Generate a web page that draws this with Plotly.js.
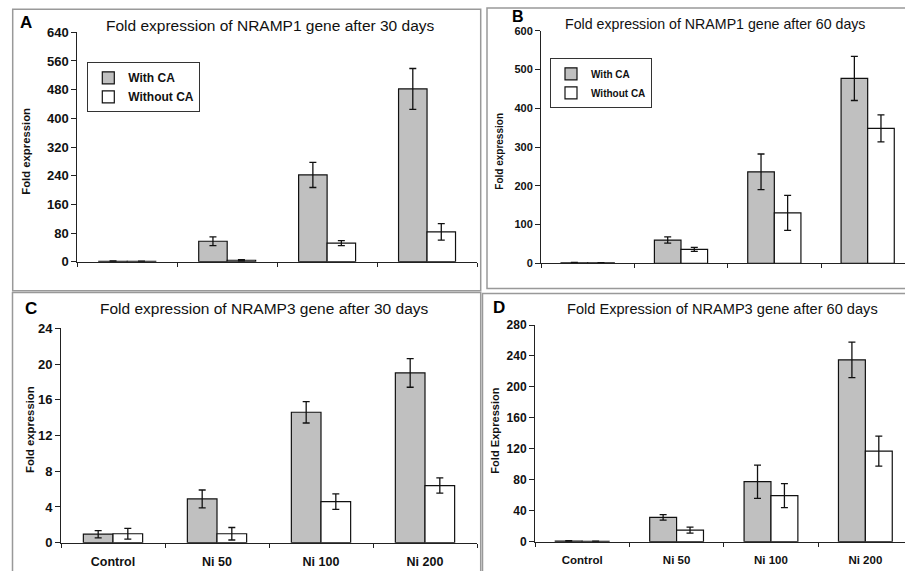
<!DOCTYPE html>
<html>
<head>
<meta charset="utf-8">
<script src="https://cdn.plot.ly/plotly-3.0.1.min.js"></script>
<style>html,body{margin:0;padding:0;background:#fff;}#chart{width:905px;height:571px;}</style>
</head>
<body>
<div id="chart"></div>
<script>
// ---------- data ----------
const categories = ['Control', 'Ni 50', 'Ni 100', 'Ni 200'];
const seriesNames = ['With CA', 'Without CA'];

// A: NRAMP1, 30 days
const n1d30With = [1, 57, 242, 482];
const n1d30WithErr = [1, 12, 35, 57];
const n1d30Without = [1, 4, 52, 83];
const n1d30WithoutErr = [0.5, 2, 7, 23];

// B: NRAMP1, 60 days
const n1d60With = [1, 60, 236, 477];
const n1d60WithErr = [1, 8, 46, 57];
const n1d60Without = [1, 36, 130, 348];
const n1d60WithoutErr = [0.5, 5, 45, 35];

// C: NRAMP3, 30 days
const n3d30With = [0.95, 4.9, 14.6, 19.0];
const n3d30WithErr = [0.4, 1.0, 1.2, 1.6];
const n3d30Without = [1.0, 1.0, 4.6, 6.4];
const n3d30WithoutErr = [0.6, 0.7, 0.86, 0.85];

// D: NRAMP3, 60 days
const n3d60With = [0.8, 31.5, 77.5, 235];
const n3d60WithErr = [0.5, 3.6, 21.5, 23];
const n3d60Without = [0.5, 15, 59.5, 117];
const n3d60WithoutErr = [0.3, 3.9, 15.5, 19.4];

const panelTitles = [
  'Fold expression of NRAMP1 gene after 30 days',
  'Fold expression of NRAMP1 gene after 60 days',
  'Fold expression of NRAMP3 gene after 30 days',
  'Fold Expression of NRAMP3 gene after 60 days'
];
const panelLetters = ['A', 'B', 'C', 'D'];
const yTitles = ['Fold expression', 'Fold expression', 'Fold expression', 'Fold Expression'];

// ---------- helpers ----------
const W = 905, H = 571;
const fx = p => p / W;
const fy = p => 1 - p / H;
const FONT = 'Liberation Sans, Arial, Helvetica, sans-serif';
const GRAY = '#c0c0c0';
const AX = '#222';

function barTrace(vals, errs, name, color, xa, ya, legend, show) {
  return {
    type: 'bar', x: categories, y: vals, name: name,
    xaxis: xa, yaxis: ya, legend: legend, showlegend: show,
    marker: {color: color, line: {color: '#111', width: 1.2}},
    error_y: {type: 'data', array: errs, visible: true, color: '#111', thickness: 1.3, width: 3.5},
    hoverinfo: 'x+y+name'
  };
}

const data = [
  barTrace(n1d30With, n1d30WithErr, seriesNames[0], GRAY, 'x', 'y', 'legend', true),
  barTrace(n1d30Without, n1d30WithoutErr, seriesNames[1], '#ffffff', 'x', 'y', 'legend', true),
  barTrace(n1d60With, n1d60WithErr, seriesNames[0], GRAY, 'x2', 'y2', 'legend2', true),
  barTrace(n1d60Without, n1d60WithoutErr, seriesNames[1], '#ffffff', 'x2', 'y2', 'legend2', true),
  barTrace(n3d30With, n3d30WithErr, seriesNames[0], GRAY, 'x3', 'y3', 'legend', false),
  barTrace(n3d30Without, n3d30WithoutErr, seriesNames[1], '#ffffff', 'x3', 'y3', 'legend', false),
  barTrace(n3d60With, n3d60WithErr, seriesNames[0], GRAY, 'x4', 'y4', 'legend', false),
  barTrace(n3d60Without, n3d60WithoutErr, seriesNames[1], '#ffffff', 'x4', 'y4', 'legend', false)
];

function xAxis(dom, range, anchor, labels, fsize) {
  return {
    domain: dom, range: range, anchor: anchor, type: 'category',
    showline: true, linecolor: AX, linewidth: 1,
    ticks: 'outside', tickson: 'boundaries', ticklen: 4, tickcolor: AX,
    showgrid: false, zeroline: false, fixedrange: true,
    showticklabels: labels, ticklabelstandoff: 7,
    tickfont: {family: FONT, size: fsize, color: '#111', weight: 'bold'}
  };
}
function yAxis(dom, range, dtick, anchor, fsize) {
  return {
    domain: dom, range: range, dtick: dtick, tick0: 0, anchor: anchor,
    showline: true, linecolor: AX, linewidth: 1,
    ticks: 'outside', ticklen: 5, tickcolor: AX,
    showgrid: false, zeroline: false, fixedrange: true,
    tickfont: {family: FONT, size: fsize, color: '#111', weight: 'bold'}
  };
}

const layout = {
  width: W, height: H,
  margin: {l: 0, r: 0, t: 0, b: 0},
  paper_bgcolor: '#fff', plot_bgcolor: 'rgba(0,0,0,0)',
  barmode: 'group', bargap: 0.43, bargroupgap: 0,
  font: {family: FONT, color: '#111'},
  xaxis: xAxis([fx(77.3), fx(477)], [-0.5, 3.5], 'y', false, 12),
  yaxis: yAxis([fy(261.7), fy(32.3)], [0, 640], 80, 'x', 13),
  xaxis2: xAxis([fx(541), 1], [-0.5, 3.4], 'y2', false, 12),
  yaxis2: yAxis([fy(263.3), fy(30.7)], [0, 600], 100, 'x2', 11),
  xaxis3: xAxis([fx(61), fx(477)], [-0.5, 3.5], 'y3', true, 12.5),
  yaxis3: yAxis([fy(542.7), fy(328.3)], [0, 24], 4, 'x3', 13),
  xaxis4: xAxis([fx(535), 1], [-0.5, 3.42], 'y4', true, 11.5),
  yaxis4: yAxis([fy(541.7), fy(325)], [0, 280], 40, 'x4', 12),
  legend: {
    x: fx(87.3), y: fy(62.3), xanchor: 'left', yanchor: 'top',
    bordercolor: '#333', borderwidth: 1, bgcolor: '#fff',
    font: {family: FONT, size: 12, color: '#111', weight: 'bold'},
    tracegroupgap: 0, itemwidth: 30
  },
  legend2: {
    x: fx(550), y: fy(58.3), xanchor: 'left', yanchor: 'top',
    bordercolor: '#333', borderwidth: 1, bgcolor: '#fff',
    font: {family: FONT, size: 10, color: '#111', weight: 'bold'},
    tracegroupgap: 0, itemwidth: 30
  },
  shapes: [
    {type: 'rect', xref: 'paper', yref: 'paper', x0: fx(12.7), x1: fx(480.7), y0: fy(290.7), y1: fy(9.3), line: {color: '#999', width: 1.5}},
    {type: 'rect', xref: 'paper', yref: 'paper', x0: fx(487), x1: fx(915), y0: fy(288.5), y1: fy(8), line: {color: '#999', width: 1.5}},
    {type: 'rect', xref: 'paper', yref: 'paper', x0: fx(12.5), x1: fx(480.7), y0: fy(585), y1: fy(292.5), line: {color: '#999', width: 1.5}},
    {type: 'rect', xref: 'paper', yref: 'paper', x0: fx(482.5), x1: fx(915), y0: fy(585), y1: fy(293.5), line: {color: '#999', width: 1.5}}
  ],
  annotations: []
};

const titlePos = [[270, 25, 15.5], [715, 23.5, 14.2], [264.5, 308.5, 15.5], [722.8, 308.5, 14.6]];
const letterPos = [[26, 22.5, 17], [518, 17, 16], [31, 308, 17], [499, 307, 17]];
const yTitlePos = [[26, 151.7, 11.3], [500, 151.7, 10], [30, 430, 11.3], [495, 430.7, 11.1]];

for (let i = 0; i < 4; i++) {
  layout.annotations.push({
    xref: 'paper', yref: 'paper', x: fx(titlePos[i][0]), y: fy(titlePos[i][1]),
    xanchor: 'center', yanchor: 'middle', showarrow: false, text: panelTitles[i],
    font: {family: FONT, size: titlePos[i][2], color: '#111'}
  });
  layout.annotations.push({
    xref: 'paper', yref: 'paper', x: fx(letterPos[i][0]), y: fy(letterPos[i][1]),
    xanchor: 'center', yanchor: 'middle', showarrow: false, text: panelLetters[i],
    font: {family: FONT, size: letterPos[i][2], color: '#000', weight: 'bold'}
  });
  layout.annotations.push({
    xref: 'paper', yref: 'paper', x: fx(yTitlePos[i][0]), y: fy(yTitlePos[i][1]),
    xanchor: 'center', yanchor: 'middle', showarrow: false, text: yTitles[i], textangle: -90,
    font: {family: FONT, size: yTitlePos[i][2], color: '#111', weight: 'bold'}
  });
}

Plotly.newPlot('chart', data, layout, {displayModeBar: false, staticPlot: true});
</script>
</body>
</html>
